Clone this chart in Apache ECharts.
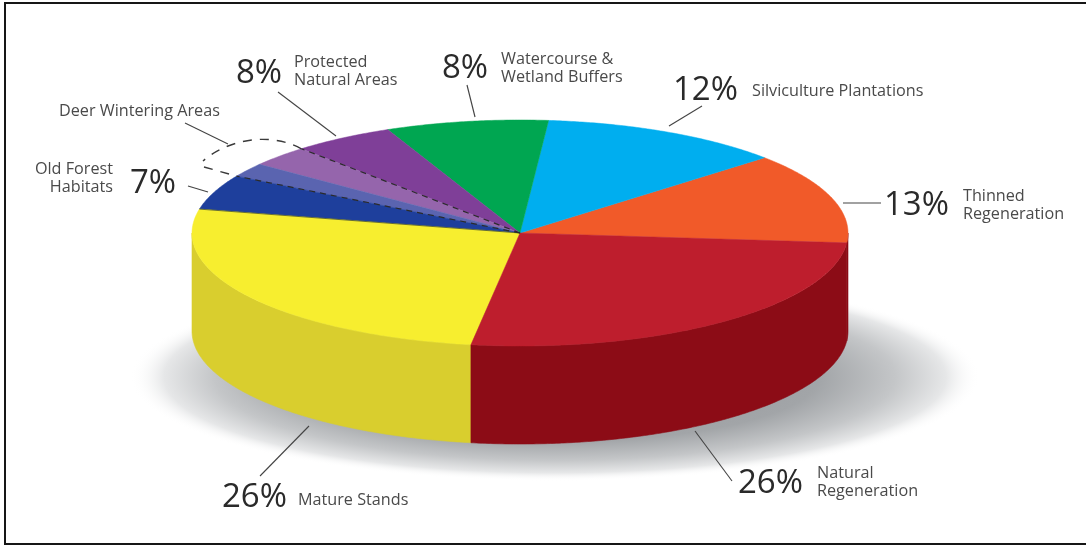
<!DOCTYPE html>
<html>
<head>
<meta charset="utf-8">
<style>html,body{margin:0;padding:0;background:#fff}#chart{width:1086px;height:545px}</style>
<script src="https://cdn.jsdelivr.net/npm/echarts@6/dist/echarts.min.js"></script>
</head>
<body>
<div id="chart"></div>
<script>
// Slices, counter-clockwise from the thinned-regeneration edge.
const sliceGroups = ['Thinned Regeneration', 'Silviculture Plantations', 'Watercourse & Wetland Buffers',
  'Protected Natural Areas', 'Protected Natural Areas', 'Old Forest Habitats', 'Old Forest Habitats',
  'Mature Stands', 'Natural Regeneration'];
const sliceValues = [13, 12, 8, 5, 3, 2, 5, 26, 26];
const topColors = ['#f15a29', '#00aeef', '#00a651', '#7f3f98', '#9565ac', '#5a64b0', '#1e3f9c', '#f7ee2f', '#be1e2d'];
const sideColors = ['#8c0c16', '#0082b3', '#007a3d', '#5c2c70', '#6d4a80', '#424a84', '#152c70', '#d9ce2e', '#8c0c16'];
// Slices whose combined span is the dashed deer wintering range.
const deerSlices = [4, 5];

// Pie drawing parameters: an ellipse with a vertical wall below it.
const PIE = { cx: 520, cy: 233, rx: 328, ry: 113, depth: 98, startDeg: -5 };
const FONT = '"Open Sans", "Noto Sans", sans-serif';

const total = sliceValues.reduce((a, b) => a + b, 0);
const groupTotal = name => sliceValues.reduce((s, v, i) => s + (sliceGroups[i] === name ? v : 0), 0);
const pctText = name => groupTotal(name) + '%';

function sliceSpan(i) {
  let start = PIE.startDeg;
  for (let k = 0; k < i; k++) start += sliceValues[k] / total * 360;
  return [start, start + sliceValues[i] / total * 360];
}
function rimPoint(deg, dy) {
  const a = deg * Math.PI / 180;
  return [PIE.cx + PIE.rx * Math.cos(a), PIE.cy - PIE.ry * Math.sin(a) + (dy || 0)];
}
function arcPoints(from, to, dy) {
  const n = Math.max(2, Math.ceil(Math.abs(to - from) * 2));
  const pts = [];
  for (let j = 0; j <= n; j++) pts.push(rimPoint(from + (to - from) * j / n, dy));
  return pts;
}
// The wall is only visible along the front half of the ellipse (180..360 degrees).
function wallRange(from, to) {
  for (const shift of [0, 360, -360]) {
    const a = Math.max(from + shift, 180), b = Math.min(to + shift, 360);
    if (b > a) return [a, b];
  }
  return null;
}

function renderSlice(params) {
  const i = params.dataIndex;
  const [from, to] = sliceSpan(i);
  const children = [];
  const wall = wallRange(from, to);
  if (wall) {
    const pts = arcPoints(wall[0], wall[1], 0).concat(arcPoints(wall[1], wall[0], PIE.depth));
    children.push({ type: 'polygon', shape: { points: pts },
      style: { fill: sideColors[i], stroke: sideColors[i], lineWidth: 0.6 } });
  }
  const top = [[PIE.cx, PIE.cy]].concat(arcPoints(from, to, 0));
  children.push({ type: 'polygon', shape: { points: top },
    style: { fill: topColors[i], stroke: topColors[i], lineWidth: 0.5 } });
  return { type: 'group', children };
}

// Soft ground shadow beneath the pie.
function renderShadow() {
  return {
    type: 'circle', x: 555, y: 377, scaleY: 0.245,
    shape: { cx: 0, cy: 0, r: 425 },
    style: {
      fill: new echarts.graphic.RadialGradient(0.5, 0.5, 0.5, [
        { offset: 0, color: '#8f9296' },
        { offset: 0.62, color: '#a2a5a8' },
        { offset: 0.8, color: '#c4c6c8' },
        { offset: 0.92, color: '#e6e7e8' },
        { offset: 1, color: 'rgba(255,255,255,0)' }
      ])
    }
  };
}

// Dashed deer wintering outline: two radii that run past the rim, closed by a bulge.
function renderDeer() {
  const inner = sliceSpan(deerSlices[0])[0];
  const outer = sliceSpan(deerSlices[deerSlices.length - 1])[1];
  const a = rimPoint(inner), b = rimPoint(outer);
  const radial = { stroke: '#2b2b2b', lineWidth: 1.2, lineDash: [6, 5], fill: null };
  const bulge = { stroke: '#3a3a3a', lineWidth: 1.4, lineDash: [9, 8], fill: null };
  const navyEdge = rimPoint(sliceSpan(6)[1]);
  return { type: 'group', children: [
    { type: 'line', shape: { x1: PIE.cx, y1: PIE.cy, x2: a[0], y2: a[1] }, style: radial },
    { type: 'line', shape: { x1: PIE.cx, y1: PIE.cy, x2: b[0], y2: b[1] }, style: radial },
    { type: 'line', shape: { x1: PIE.cx, y1: PIE.cy, x2: navyEdge[0], y2: navyEdge[1] },
      style: { stroke: '#26342a', lineWidth: 0.8, opacity: 0.8 } },
    { type: 'bezierCurve', shape: { x1: a[0], y1: a[1], cpx1: 266, cpy1: 130, cpx2: 224, cpy2: 142, x2: 203, y2: 161 }, style: bulge },
    { type: 'line', shape: { x1: 204, y1: 167, x2: b[0], y2: b[1] }, style: bulge }
  ] };
}

// Callouts: percentage, name lines and the leader that ties them to the pie.
const callouts = [
  { group: 'Protected Natural Areas', lines: ['Protected', 'Natural Areas'], pct: [236, 74], name: [294, 62], leader: [278, 92, 336, 136] },
  { group: 'Watercourse & Wetland Buffers', lines: ['Watercourse &', 'Wetland Buffers'], pct: [442, 69], name: [501, 59], leader: [467, 85, 475, 117] },
  { group: 'Silviculture Plantations', lines: ['Silviculture Plantations'], pct: [673, 91], name: [752, 91], leader: [702, 106, 669, 126] },
  { group: 'Thinned Regeneration', lines: ['Thinned', 'Regeneration'], pct: [884, 206], name: [963, 196], leader: [843, 203, 881, 203] },
  { group: 'Natural Regeneration', lines: ['Natural', 'Regeneration'], pct: [738, 484], name: [817, 473], leader: [695, 431, 732, 481] },
  { group: 'Mature Stands', lines: ['Mature Stands'], pct: [222, 498], name: [298, 500], leader: [309, 426, 260, 476] },
  { group: 'Old Forest Habitats', lines: ['Old Forest', 'Habitats'], pct: [130, 184], name: [113, 169], align: 'right', leader: [188, 186, 208, 192] }
];
const deerNote = { text: 'Deer Wintering Areas', pos: [59, 111], leader: [185, 123, 228, 144] };

const NAME_SIZE = 16.2, PCT_SIZE = 33, NAME_LINE = 18;
const leaderStyle = { stroke: '#444', lineWidth: 1.1 };
const overlay = [];
const addLeader = l => overlay.push({ type: 'line', z: 10, shape: { x1: l[0], y1: l[1], x2: l[2], y2: l[3] }, style: leaderStyle });
callouts.forEach(c => {
  addLeader(c.leader);
  overlay.push({ type: 'text', z: 10, x: c.pct[0], y: c.pct[1],
    style: { text: pctText(c.group), font: PCT_SIZE + 'px ' + FONT, fill: '#2a2a2a', verticalAlign: 'middle', align: 'left' } });
  c.lines.forEach((t, k) => overlay.push({ type: 'text', z: 10, x: c.name[0], y: c.name[1] + k * NAME_LINE,
    style: { text: t, font: NAME_SIZE + 'px ' + FONT, fill: '#4a4a4a', verticalAlign: 'middle', align: c.align || 'left' } }));
});
addLeader(deerNote.leader);
overlay.push({ type: 'text', z: 10, x: deerNote.pos[0], y: deerNote.pos[1],
  style: { text: deerNote.text, font: NAME_SIZE + 'px ' + FONT, fill: '#4a4a4a', verticalAlign: 'middle', align: 'left' } });
// Dark rule along the top, left and bottom of the panel.
overlay.push({ type: 'polyline', z: 10, shape: { points: [[1086, 3], [5, 3], [5, 544], [1086, 544]] },
  style: { stroke: '#161616', lineWidth: 2, fill: null } });

const chart = echarts.init(document.getElementById('chart'), null, { renderer: 'canvas' });
chart.setOption({
  animation: false,
  backgroundColor: '#fff',
  graphic: { elements: overlay },
  series: [
    { type: 'custom', coordinateSystem: 'none', silent: true, data: [0], renderItem: renderShadow, z: 1 },
    { type: 'custom', coordinateSystem: 'none', silent: true,
      data: sliceValues.map((v, i) => ({ name: sliceGroups[i], value: [v] })), renderItem: renderSlice, z: 2 },
    { type: 'custom', coordinateSystem: 'none', silent: true, data: [0], renderItem: renderDeer, z: 3 }
  ]
});
</script>
</body>
</html>
